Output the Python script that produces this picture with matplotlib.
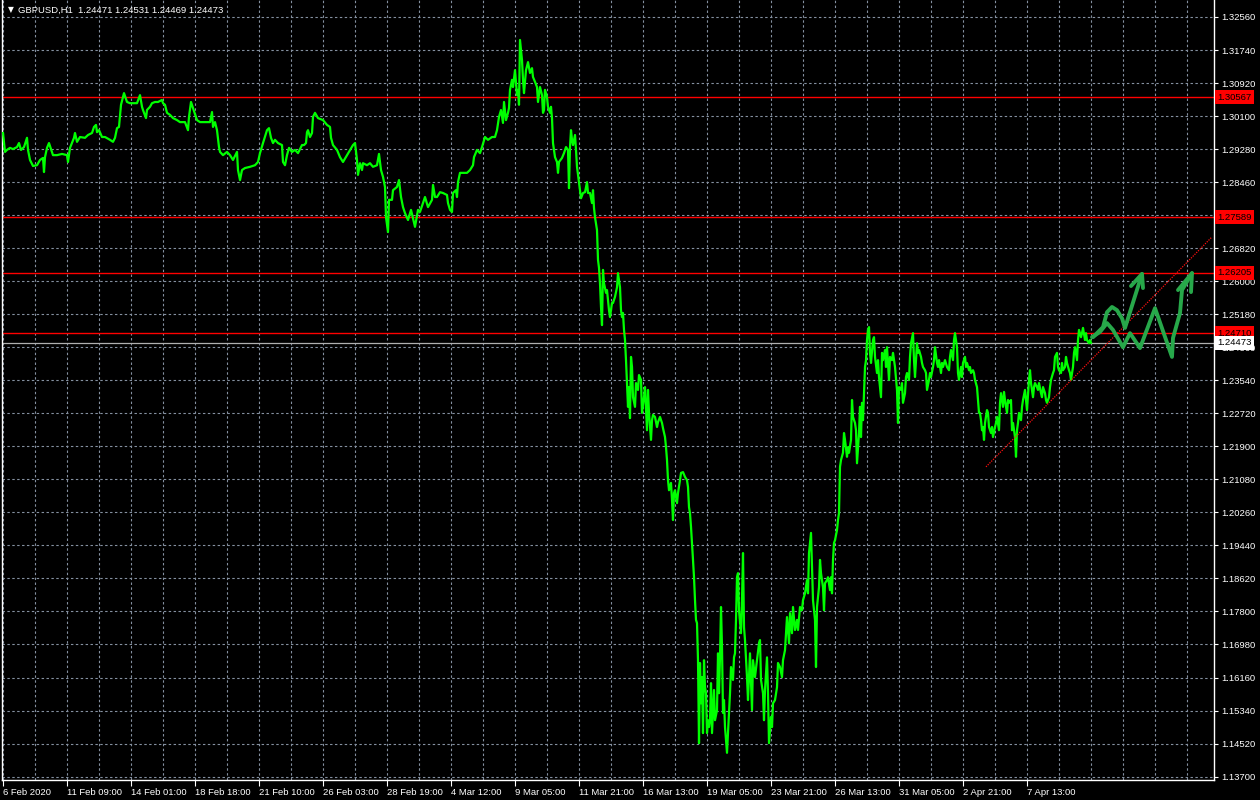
import matplotlib
matplotlib.use("Agg")
from matplotlib import pyplot as plt
import numpy as np

# GBPUSD H1 closes (one bar per pixel column)
bars_1 = [3, 5, 7, 10, 13, 17, 19, 21, 24, 27,
          28, 30, 33, 37, 40, 43, 44, 45, 47, 49,
          52, 53, 57, 62, 67, 68, 70, 74, 75, 77,
          80, 85, 88, 92, 94, 96, 97, 99, 102, 105,
          110, 113, 115, 117, 119, 121, 123, 124, 127, 130,
          133, 137, 140, 142, 143, 146, 147, 150, 152, 155,
          158, 162, 163, 165, 167, 170, 173, 177, 180, 185,
          188, 189, 191, 193, 197, 200, 207, 210, 212, 213,
          215, 217, 219, 220, 223, 227, 230, 233, 237, 238,
          240, 242, 245, 250, 255, 258, 260, 263, 267, 269,
          271, 273, 275, 278, 282, 283, 285, 287, 289, 292,
          295, 298, 302, 304, 306, 307, 308, 310, 312, 313,
          315, 318, 323, 327, 330, 331, 333, 337, 340, 343,
          347, 350, 353, 355, 357, 358, 360, 362, 363, 367,
          370, 373, 377, 379, 381, 383, 385, 386, 388, 389,
          392, 393, 397, 399, 401, 403, 405, 408, 411, 415,
          418]
close_1 = [1.2968, 1.2921, 1.2926, 1.2931, 1.2928, 1.2933, 1.2943, 1.2926, 1.2933, 1.2956,
           1.2926, 1.2901, 1.2886, 1.2888, 1.2901, 1.2906, 1.2871, 1.2908, 1.2931, 1.2943,
           1.2921, 1.2913, 1.2913, 1.2916, 1.2913, 1.2896, 1.2931, 1.2956, 1.2968, 1.2946,
           1.2958, 1.2956, 1.2963, 1.2968, 1.2983, 1.2988, 1.2970, 1.2975, 1.2958, 1.2958,
           1.2951, 1.2946, 1.2956, 1.2980, 1.2983, 1.3038, 1.3057, 1.3067, 1.3045, 1.3042,
           1.3042, 1.3042, 1.3062, 1.3033, 1.3025, 1.3005, 1.3025, 1.3033, 1.3042, 1.3045,
           1.3045, 1.3050, 1.3042, 1.3038, 1.3018, 1.3013, 1.3005, 1.3000, 1.2995, 1.2995,
           1.2975, 1.3008, 1.3045, 1.3030, 1.3000, 1.2995, 1.2995, 1.2995, 1.3020, 1.2983,
           1.2995, 1.2975, 1.2933, 1.2921, 1.2913, 1.2921, 1.2913, 1.2901, 1.2921, 1.2876,
           1.2851, 1.2876, 1.2881, 1.2884, 1.2888, 1.2896, 1.2918, 1.2943, 1.2975, 1.2980,
           1.2956, 1.2943, 1.2951, 1.2943, 1.2938, 1.2896, 1.2888, 1.2913, 1.2931, 1.2921,
           1.2926, 1.2918, 1.2938, 1.2938, 1.2943, 1.2970, 1.2975, 1.2958, 1.2968, 1.3008,
           1.3018, 1.3005, 1.3000, 1.2988, 1.2983, 1.2956, 1.2938, 1.2926, 1.2908, 1.2896,
           1.2913, 1.2926, 1.2938, 1.2943, 1.2901, 1.2864, 1.2893, 1.2876, 1.2893, 1.2888,
           1.2893, 1.2884, 1.2888, 1.2916, 1.2876, 1.2859, 1.2834, 1.2759, 1.2722, 1.2802,
           1.2802, 1.2826, 1.2834, 1.2851, 1.2809, 1.2784, 1.2769, 1.2752, 1.2777, 1.2735,
           1.2777]

bars_2 = [420, 423, 425, 428, 432, 433, 435, 437, 440, 443,
          447, 448, 450, 452, 453, 456, 457, 458, 460, 463,
          467, 470, 473, 474, 477, 480, 482, 485, 488, 492,
          495, 497, 499, 501, 503, 504, 506, 508, 509, 510,
          512, 513, 515, 517, 518, 519, 520, 522, 523, 524,
          526, 528, 530, 532, 533, 535, 537, 538, 540]
close_2 = [1.2772, 1.2794, 1.2809, 1.2784, 1.2802, 1.2839, 1.2809, 1.2809, 1.2821, 1.2819,
           1.2814, 1.2794, 1.2777, 1.2772, 1.2819, 1.2826, 1.2809, 1.2846, 1.2869, 1.2869,
           1.2869, 1.2876, 1.2888, 1.2908, 1.2926, 1.2918, 1.2933, 1.2958, 1.2951, 1.2958,
           1.2958, 1.2975, 1.3008, 1.3025, 1.2993, 1.3045, 1.3000, 1.3018, 1.3030, 1.3075,
           1.3100, 1.3082, 1.3124, 1.3062, 1.3075, 1.3038, 1.3199, 1.3149, 1.3100, 1.3067,
           1.3124, 1.3144, 1.3117, 1.3129, 1.3107, 1.3095, 1.3082, 1.3045, 1.3082]

bars_3 = [542, 543, 544, 545, 547, 548, 550, 551, 552, 553,
          554, 555, 557, 558, 559, 562, 564, 566, 568, 569,
          570, 571, 572, 573, 575, 576, 577, 579, 580, 581,
          583, 585, 587, 588, 590, 592, 593, 594, 595, 597,
          598, 599, 600, 601, 602, 603, 604, 606, 607, 609,
          610, 612, 613, 615, 617, 618, 619, 620, 621, 622,
          623, 624]
close_3 = [1.3062, 1.3018, 1.3025, 1.3075, 1.3057, 1.3033, 1.3018, 1.3033, 1.3005, 1.2943,
           1.2926, 1.2908, 1.2896, 1.2869, 1.2896, 1.2906, 1.2918, 1.2933, 1.2926, 1.2831,
           1.2933, 1.2975, 1.2951, 1.2938, 1.2963, 1.2926, 1.2884, 1.2844, 1.2826, 1.2806,
           1.2819, 1.2821, 1.2846, 1.2819, 1.2819, 1.2794, 1.2826, 1.2782, 1.2759, 1.2727,
           1.2653, 1.2633, 1.2595, 1.2536, 1.2491, 1.2628, 1.2595, 1.2571, 1.2578, 1.2528,
           1.2511, 1.2546, 1.2546, 1.2561, 1.2585, 1.2620, 1.2603, 1.2585, 1.2528, 1.2511,
           1.2521, 1.2479]

bars_4 = [625, 626, 627, 628, 629, 630, 631, 632, 633, 635,
          636, 638, 639, 641, 642, 644, 645, 647, 648, 649,
          651, 652, 653, 655, 657, 658, 660, 662, 663, 665,
          666, 667, 668, 669, 671, 672, 673, 674, 675, 677,
          678, 680, 681, 683, 685, 687, 688, 689, 690, 691,
          692, 693, 694, 695, 696, 697, 698, 699, 700, 701,
          702, 703, 704, 705, 706, 707, 708, 709, 710, 711,
          712, 714, 715, 717, 718, 719, 720, 721, 722, 723,
          724, 725, 726, 727, 729, 730, 731, 733, 734, 735,
          736, 737, 738, 739, 741, 742, 743, 744, 745, 747,
          748, 749, 750, 752, 753, 755, 757, 759, 760, 761,
          763, 764, 765, 767, 768, 769, 771, 772, 773, 775,
          777, 778]
close_4 = [1.2454, 1.2404, 1.2347, 1.2288, 1.2337, 1.2260, 1.2412, 1.2387, 1.2312, 1.2288,
           1.2347, 1.2330, 1.2367, 1.2355, 1.2273, 1.2312, 1.2337, 1.2230, 1.2330, 1.2273,
           1.2206, 1.2255, 1.2268, 1.2263, 1.2238, 1.2250, 1.2263, 1.2248, 1.2235, 1.2213,
           1.2188, 1.2156, 1.2106, 1.2081, 1.2099, 1.2057, 1.2007, 1.2074, 1.2081, 1.2049,
           1.2074, 1.2106, 1.2124, 1.2126, 1.2114, 1.2106, 1.2089, 1.2039, 1.2024, 1.1990,
           1.1950, 1.1908, 1.1865, 1.1808, 1.1759, 1.1751, 1.1659, 1.1453, 1.1652, 1.1552,
           1.1617, 1.1478, 1.1659, 1.1592, 1.1577, 1.1478, 1.1510, 1.1493, 1.1510, 1.1602,
           1.1478, 1.1585, 1.1510, 1.1535, 1.1676, 1.1577, 1.1666, 1.1791, 1.1691, 1.1528,
           1.1560, 1.1493, 1.1461, 1.1429, 1.1528, 1.1577, 1.1642, 1.1610, 1.1666, 1.1676,
           1.1759, 1.1865, 1.1875, 1.1783, 1.1726, 1.1808, 1.1925, 1.1741, 1.1709, 1.1617,
           1.1560, 1.1617, 1.1676, 1.1535, 1.1659, 1.1617, 1.1659, 1.1701, 1.1709, 1.1610,
           1.1577, 1.1510, 1.1585, 1.1666, 1.1577, 1.1453, 1.1518, 1.1493, 1.1552, 1.1560,
           1.1592, 1.1652]

bars_5 = [780, 782, 783, 785, 786, 787, 789, 790, 792, 793,
          795, 797, 798, 800, 802, 803, 805, 807, 808, 809,
          811, 812, 813, 815, 816, 817, 819, 820, 821, 823,
          824, 825, 827, 828, 830, 831, 832, 833, 834, 835,
          837, 838, 839, 840, 841, 843, 844, 845, 847, 848,
          849, 851, 852, 853, 855, 856, 857, 859, 860, 861,
          862, 863, 865, 866, 867, 868, 869, 870, 871, 873,
          874, 875, 877, 878, 879, 881, 882, 883, 885, 886,
          887, 889, 890, 892, 893, 895, 897, 898, 899, 901,
          902, 903, 905, 906, 907, 909, 910, 911, 913, 914,
          915, 917, 918, 919, 921, 922, 923, 925, 926, 927,
          929, 930, 931, 933, 934, 935, 937, 938, 939, 941,
          942, 943, 945, 947, 949, 950, 951, 953, 954, 955,
          957, 958, 959, 961, 962, 963, 965, 966, 967, 969,
          970, 971, 973, 974, 975, 977, 978, 979]
close_5 = [1.1642, 1.1617, 1.1659, 1.1684, 1.1726, 1.1766, 1.1701, 1.1776, 1.1726, 1.1791,
           1.1734, 1.1759, 1.1734, 1.1791, 1.1783, 1.1808, 1.1825, 1.1858, 1.1825, 1.1925,
           1.1975, 1.1890, 1.1808, 1.1759, 1.1642, 1.1791, 1.1840, 1.1908, 1.1875, 1.1840,
           1.1783, 1.1850, 1.1858, 1.1865, 1.1833, 1.1865, 1.1825, 1.1908, 1.1950, 1.1957,
           1.1982, 1.2007, 1.2024, 1.2139, 1.2156, 1.2174, 1.2223, 1.2206, 1.2164, 1.2188,
           1.2174, 1.2206, 1.2305, 1.2263, 1.2248, 1.2230, 1.2148, 1.2223, 1.2288, 1.2213,
           1.2298, 1.2255, 1.2387, 1.2404, 1.2454, 1.2479, 1.2486, 1.2422, 1.2397, 1.2454,
           1.2461, 1.2412, 1.2372, 1.2404, 1.2362, 1.2312, 1.2422, 1.2404, 1.2429, 1.2387,
           1.2436, 1.2355, 1.2412, 1.2404, 1.2422, 1.2387, 1.2330, 1.2248, 1.2337, 1.2330,
           1.2347, 1.2298, 1.2322, 1.2362, 1.2372, 1.2355, 1.2412, 1.2446, 1.2471, 1.2404,
           1.2362, 1.2446, 1.2422, 1.2429, 1.2412, 1.2397, 1.2387, 1.2379, 1.2372, 1.2330,
           1.2355, 1.2372, 1.2362, 1.2387, 1.2404, 1.2436, 1.2397, 1.2387, 1.2404, 1.2372,
           1.2397, 1.2387, 1.2404, 1.2387, 1.2379, 1.2412, 1.2429, 1.2404, 1.2454, 1.2471,
           1.2436, 1.2372, 1.2355, 1.2387, 1.2362, 1.2397, 1.2412, 1.2387, 1.2397, 1.2379,
           1.2387, 1.2372, 1.2379, 1.2372, 1.2355, 1.2337, 1.2305, 1.2273]

bars_6 = [980, 981, 982, 983, 984, 985, 987, 988, 989, 991,
          992, 993, 995, 996, 997, 999, 1000, 1001, 1003, 1004,
          1005, 1007, 1008, 1009, 1011, 1012, 1013, 1015, 1016, 1017,
          1018, 1019, 1021, 1022, 1023, 1025, 1026, 1027, 1029, 1030,
          1031, 1033, 1034, 1035, 1037, 1038, 1039, 1041, 1042, 1043,
          1045, 1046, 1047, 1049, 1050, 1051, 1053, 1054, 1055, 1057,
          1058, 1059, 1061, 1062, 1063, 1065, 1066, 1067, 1069, 1070,
          1071, 1073, 1074, 1075, 1077, 1078, 1079, 1081, 1082, 1083,
          1085, 1086, 1087, 1089, 1090, 1091]
close_6 = [1.2273, 1.2255, 1.2230, 1.2238, 1.2206, 1.2248, 1.2280, 1.2273, 1.2238, 1.2223,
           1.2238, 1.2213, 1.2238, 1.2248, 1.2263, 1.2230, 1.2298, 1.2322, 1.2288, 1.2325,
           1.2305, 1.2273, 1.2305, 1.2298, 1.2305, 1.2230, 1.2248, 1.2213, 1.2164, 1.2230,
           1.2248, 1.2273, 1.2255, 1.2288, 1.2305, 1.2330, 1.2305, 1.2280, 1.2355, 1.2379,
           1.2347, 1.2312, 1.2337, 1.2347, 1.2337, 1.2330, 1.2347, 1.2322, 1.2312, 1.2337,
           1.2322, 1.2305, 1.2298, 1.2312, 1.2337, 1.2355, 1.2372, 1.2379, 1.2412, 1.2422,
           1.2387, 1.2379, 1.2372, 1.2397, 1.2379, 1.2387, 1.2412, 1.2397, 1.2379, 1.2372,
           1.2355, 1.2387, 1.2422, 1.2436, 1.2404, 1.2454, 1.2479, 1.2461, 1.2471, 1.2484,
           1.2454, 1.2471, 1.2454, 1.2446, 1.2454, 1.24473]

bar_idx = bars_1 + bars_2 + bars_3 + bars_4 + bars_5 + bars_6
close = close_1 + close_2 + close_3 + close_4 + close_5 + close_6

# horizontal levels drawn by hand, current bid
levels = [1.30567, 1.27589, 1.26205, 1.24710]
bid = 1.24473
title = "GBPUSD,H1  1.24471 1.24531 1.24469 1.24473"

price_ticks = [1.32560, 1.31740, 1.30920, 1.30100, 1.29280, 1.28460, 1.27640, 1.26820,
               1.26000, 1.25180, 1.24360, 1.23540, 1.22720, 1.21900, 1.21080, 1.20260,
               1.19440, 1.18620, 1.17800, 1.16980, 1.16160, 1.15340, 1.14520, 1.13700]
# 1.27640 sits right under the 1.27589 tag, the terminal hides it
hidden_ticks = [1.27640]
date_labels = ["6 Feb 2020", "11 Feb 09:00", "14 Feb 01:00", "18 Feb 18:00",
               "21 Feb 10:00", "26 Feb 03:00", "28 Feb 19:00", "4 Mar 12:00",
               "9 Mar 05:00", "11 Mar 21:00", "16 Mar 13:00", "19 Mar 05:00",
               "23 Mar 21:00", "26 Mar 13:00", "31 Mar 05:00", "2 Apr 21:00",
               "7 Apr 13:00"]

# trend line anchors (bar, price)
trend_bar = [986, 1212]
trend_px = [1.2139, 1.2710]

# hand-drawn projection scribbles (bar, price)
path_a_bar = [1093, 1103, 1107, 1112, 1117, 1122, 1125, 1142]
path_a_px = [1.2461, 1.2486, 1.2523, 1.2536, 1.2528, 1.2508, 1.2484, 1.2618]
head_a_bar = [1131, 1142, 1143]
head_a_px = [1.2588, 1.2618, 1.2583]
path_b_bar = [1092, 1100, 1107, 1113, 1123, 1130, 1140, 1155, 1172, 1173, 1180, 1182, 1192]
path_b_px = [1.2461, 1.2474, 1.2496, 1.2479, 1.2436, 1.2471, 1.2434, 1.2533, 1.2412,
             1.2459, 1.2521, 1.2578, 1.2620]
head_b_bar = [1178, 1192, 1191]
head_b_px = [1.2578, 1.2620, 1.2573]

font = ['Liberation Sans', 'DejaVu Sans']
plt.rcParams['font.family'] = font
fs = 6.8

fig = plt.figure(figsize=(12.6, 8), dpi=100, facecolor='black')
ax = fig.add_axes([2 / 1260, 20 / 800, 1212 / 1260, 780 / 800])
ax.set_facecolor('black')
ax.set_xlim(2, 1214)
ax.set_ylim(1.13615, 1.32982)

grid_c = '#8490a0'
for gx in np.arange(3.3, 1214, 32):
    ax.axvline(gx, color=grid_c, lw=0.8, ls=(0, (2.2, 2.2)), zorder=1)
for gy in price_ticks:
    ax.axhline(gy, color=grid_c, lw=0.8, ls=(0, (2.2, 2.2)), zorder=1)

for lv in levels:
    ax.axhline(lv, color='#ff0000', lw=1.0, zorder=2)
ax.axhline(bid, color='#b0b0b0', lw=0.9, zorder=2)

ax.plot(bar_idx, close, color='#00ff00', lw=1.6, zorder=3)

ax.plot(trend_bar, trend_px, color='#ff1010', lw=0.9, ls=(0, (1, 1)), zorder=4)

scribble = '#27a84a'
for xs, ys in [(path_a_bar, path_a_px), (head_a_bar, head_a_px),
               (path_b_bar, path_b_px), (head_b_bar, head_b_px)]:
    ax.plot(xs, ys, color=scribble, lw=2.8, solid_capstyle='round',
            solid_joinstyle='round', zorder=5)

# axes frame like the terminal
ax.spines['top'].set_visible(False)
for side in ['left', 'right', 'bottom']:
    ax.spines[side].set_color('white')
    ax.spines[side].set_linewidth(1.0)

ax.yaxis.tick_right()
ax.set_yticks(price_ticks)
ax.set_yticklabels(['' if p in hidden_ticks else '%.5f' % p for p in price_ticks])
ax.tick_params(axis='y', colors='white', length=3, width=0.8, pad=2, labelsize=fs)

ax.set_xticks(3.3 + 64 * np.arange(len(date_labels)))
ax.set_xticklabels(date_labels, ha='left')
ax.tick_params(axis='x', colors='white', length=4, width=0.8, pad=2, labelsize=fs)

# price tags on the scale
tr = ax.get_yaxis_transform()
for lv in levels:
    ax.text(1.0025, lv, '%.5f' % lv, transform=tr, va='center', ha='left',
            fontsize=fs, color='black', zorder=10, clip_on=False,
            bbox=dict(boxstyle='square,pad=0.25', fc='#ff0000', ec='none'))
ax.text(1.0025, bid, '%.5f' % bid, transform=tr, va='center', ha='left',
        fontsize=fs, color='black', zorder=10, clip_on=False,
        bbox=dict(boxstyle='square,pad=0.25', fc='white', ec='none'))

fig.text(8 / 1260, 1 - 10 / 800, '\u25bc', color='white', fontsize=5.5,
         va='center', ha='left', family=['DejaVu Sans'])
fig.text(18 / 1260, 1 - 10 / 800, title, color='white', fontsize=fs,
         va='center', ha='left')

fig.savefig('out.png', dpi=100, facecolor='black')
